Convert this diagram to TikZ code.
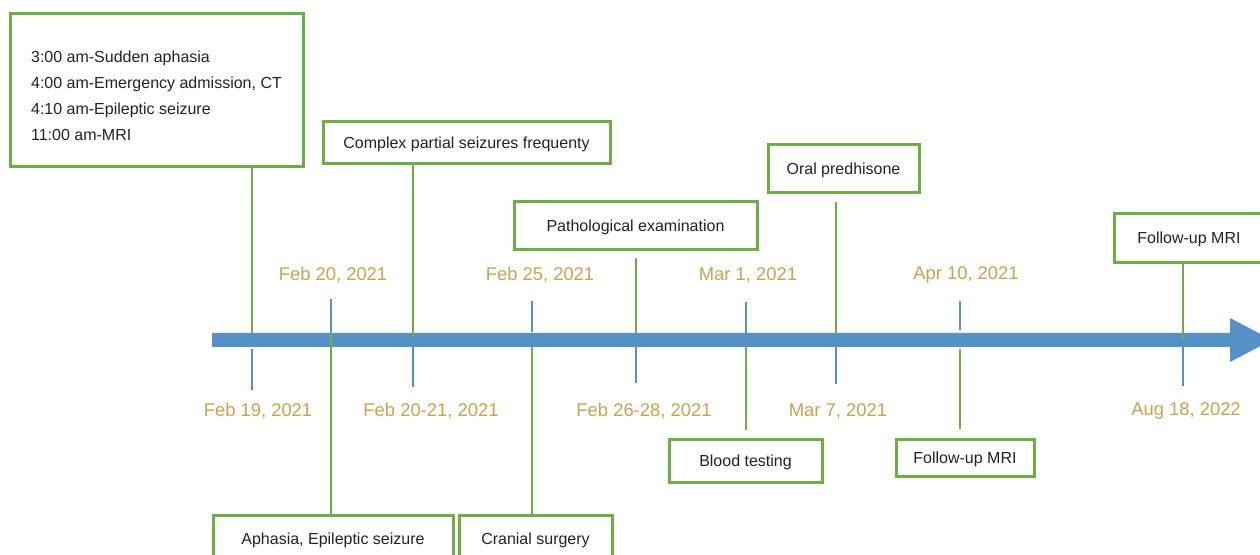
\documentclass[tikz,border=0pt]{standalone}
\usepackage{fontspec}
\setmainfont{Liberation Sans}
\definecolor{boxgreen}{RGB}{112,173,71}
\definecolor{barblue}{RGB}{85,145,198}
\definecolor{dategold}{RGB}{200,162,80}
\definecolor{textgrey}{RGB}{34,34,34}
\tikzset{
  event/.style={draw=boxgreen,line width=1.5pt,fill=white,text=textgrey,font=\fontsize{8}{13}\selectfont,inner sep=0pt,text depth=0.6pt},
  date/.style={text=dategold,font=\fontsize{9.2}{11}\selectfont,inner sep=0pt},
  link/.style={draw=boxgreen,line width=0.9pt},
  tick/.style={draw=barblue,line width=0.8pt}
}

\begin{document}
\begin{tikzpicture}[x=0.5pt,y=-0.5pt]
\useasboundingbox (0,0) rectangle (1260,555);
\fill[white] (0,0) rectangle (1260,555);
\fill[barblue] (212,333) -- (1230,333) -- (1230,318) -- (1272,340) -- (1230,362) -- (1230,347) -- (212,347) -- cycle;
\coordinate (p1) at (252,340);
\coordinate (p2) at (331,340);
\coordinate (p3) at (413,340);
\coordinate (p4) at (532,340);
\coordinate (p5) at (636,340);
\coordinate (p6) at (746,340);
\coordinate (p7) at (836,340);
\coordinate (p8) at (960,340);
\coordinate (p9) at (1183,340);
\node[event,align=left,minimum width=146.5pt,minimum height=76.5pt,text depth=0pt] (b1) at (156.5,90.5) {\rule{0pt}{11.5pt}3:00 am-Sudden aphasia\\4:00 am-Emergency admission, CT\\4:10 am-Epileptic seizure\\11:00 am-MRI};
\node[event,minimum width=143.5pt,minimum height=21pt] (b2) at (466.5,143) {Complex partial seizures frequenty};
\node[event,minimum width=120pt,minimum height=23pt] (b3) at (333,539) {Aphasia, Epileptic seizure};
\node[event,minimum width=76.5pt,minimum height=23pt] (b4) at (535.5,539) {Cranial surgery};
\node[event,minimum width=121.5pt,minimum height=24pt] (b5) at (635.5,226) {Pathological examination};
\node[event,minimum width=75.5pt,minimum height=24pt] (b6) at (843.5,169) {Oral predhisone};
\node[event,minimum width=76.5pt,minimum height=21.5pt] (b7) at (745.5,461.5) {Blood testing};
\node[event,minimum width=69pt,minimum height=18.5pt] (b8) at (965,458.5) {Follow-up MRI};
\node[event,minimum width=75pt,minimum height=24.5pt] (b9) at (1189,238.5) {Follow-up MRI};
\draw[link] (b1.south -| p1) -- ([yshift=3.5pt]p1);
\draw[link] (b2.south -| p3) -- ([yshift=1pt]p3);
\draw[link] ([yshift=3.5pt]p2) -- (b3.north -| p2);
\draw[link] ([yshift=-3.5pt]p4) -- (b4.north -| p4);
\draw[link] ([yshift=-3.5pt]b5.south -| p5) -- ([yshift=3.5pt]p5);
\draw[link] ([yshift=-4pt]b6.south -| p7) -- ([yshift=2.5pt]p7);
\draw[link] ([yshift=-3.5pt]p6) -- ([yshift=4pt]b7.north -| p6);
\draw[link] ([yshift=-4.5pt]p8) -- ([yshift=4.5pt]b8.north -| p8);
\draw[link] (b9.south -| p9) -- (p9);
\node[date] (d1) at (258,411) {Feb 19, 2021};
\node[date] (d2) at (333,275) {Feb 20, 2021};
\node[date] (d3) at (431,411) {Feb 20-21, 2021};
\node[date] (d4) at (540,275) {Feb 25, 2021};
\node[date] (d5) at (644,411) {Feb 26-28, 2021};
\node[date] (d6) at (748,275) {Mar 1, 2021};
\node[date] (d7) at (838,411) {Mar 7, 2021};
\node[date] (d8) at (966,275) {Apr 10, 2021};
\node[date] (d9) at (1186,411) {Aug 18, 2022};
\draw[tick] ([yshift=-4.5pt]p1) -- ++(0,41);
\draw[tick] ([yshift=3.5pt]p2) -- ++(0,-34);
\draw[tick] ([yshift=-3.5pt]p3) -- ++(0,40);
\draw[tick] ([yshift=4pt]p4) -- ++(0,-31);
\draw[tick] ([yshift=-3.5pt]p5) -- ++(0,36);
\draw[tick] ([yshift=3.5pt]p6) -- ++(0,-31);
\draw[tick] ([yshift=-3.5pt]p7) -- ++(0,37);
\draw[tick] ([yshift=5pt]p8) -- ++(0,-29);
\draw[tick] ([yshift=-3.5pt]p9) -- ++(0,39);
\end{tikzpicture}
\end{document}
